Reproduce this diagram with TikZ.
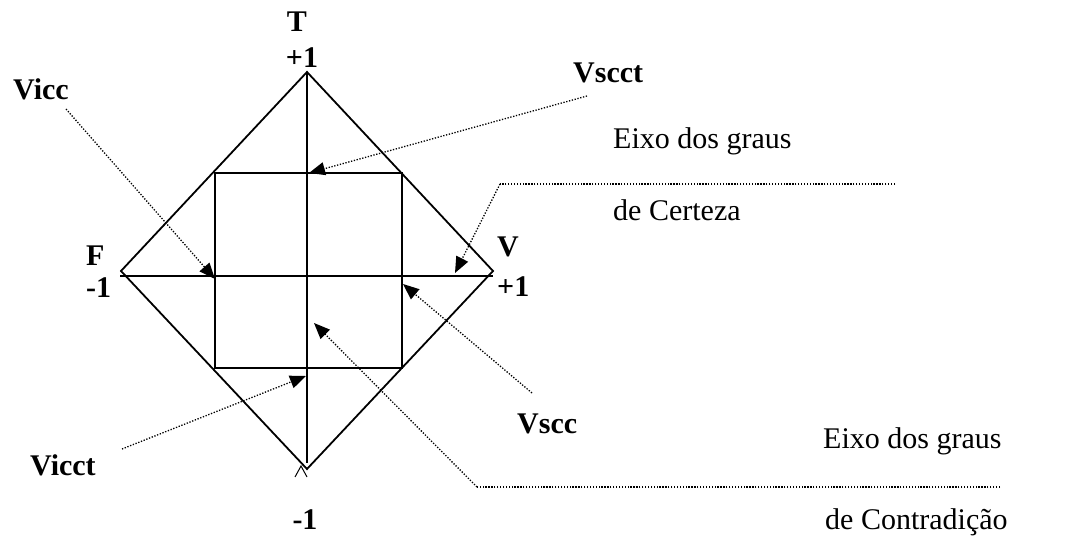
\documentclass[tikz,border=0pt]{standalone}
\usepackage{fontspec}
\setmainfont{Liberation Serif}
\usetikzlibrary{arrows.meta}
\begin{document}
\begin{tikzpicture}[x=1pt,y=-1pt,
  solid line/.style={line width=1.8pt,line join=miter},
  ptr/.style={line width=1.3pt,dash pattern=on 1.3pt off 1.6pt,-{Triangle[length=16pt,width=13pt]}},
  guide/.style={line width=1.3pt,dash pattern=on 1.3pt off 1.6pt},
  lbl/.style={inner sep=0pt,font=\fontsize{30}{36}\selectfont\bfseries},
  txt/.style={inner sep=0pt,font=\fontsize{30}{36}\selectfont}]
\useasboundingbox (0,0) rectangle (1082,537);
% vertices
\coordinate (top) at (307,72);
\coordinate (right) at (493,271);
\coordinate (bot) at (307,469);
\coordinate (left) at (121,271);
\coordinate (hl) at (120,276);
\coordinate (hr) at (493,276);
\coordinate (vb) at (307,463);
\coordinate (sq1) at (215,173);
\coordinate (sq2) at (402,368);
\draw[solid line] (top) -- (right) -- (bot) -- (left) -- cycle;
\draw[solid line] (sq1) rectangle (sq2);
\draw[solid line] (hl) -- (hr);
\draw[solid line] (top) -- (vb);
\draw[line width=1pt] (295,477) -- (301,466) -- (307,477);
% labels
\node[lbl,anchor=base] (T) at (297,32) {T};
\node[lbl,anchor=base] (Tp) at (302,68) {+1};
\node[lbl,anchor=base west] (F) at (86,266) {F};
\node[lbl,anchor=base west] (Fm) at (86,298) {-1};
\node[lbl,anchor=base west] (V) at (497,257) {V};
\node[lbl,anchor=base west] (Vp) at (497,297) {+1};
\node[lbl,anchor=base] (Bm) at (305,529) {-1};
\node[lbl,anchor=base west] (Vicc) at (13,100) {Vicc};
\node[lbl,anchor=base west] (Vscct) at (573,83) {Vscct};
\node[lbl,anchor=base west] (Vscc) at (517,433) {Vscc};
\node[lbl,anchor=base west] (Vicct) at (30,475) {Vicct};
\node[txt,anchor=base west] (E1) at (613,149) {Eixo dos graus};
\node[txt,anchor=base west] (C1) at (613,221) {de Certeza};
\node[txt,anchor=base west] (E2) at (823,448) {Eixo dos graus};
\node[txt,anchor=base west] (C2) at (825,529) {de Contradição};
% pointer coordinates
\coordinate (a1s) at (66,109);   \coordinate (a1e) at (215,279);
\coordinate (a2s) at (587,96);   \coordinate (a2e) at (309,173);
\coordinate (g1s) at (895,184);  \coordinate (g1c) at (500,184);
\coordinate (a3e) at (455,273);
\coordinate (a4s) at (532,393);  \coordinate (a4e) at (403,284);
\coordinate (a5s) at (122,449);  \coordinate (a5e) at (306,376);
\coordinate (g2s) at (1000,487); \coordinate (g2c) at (477,487);
\coordinate (a6e) at (314,323);
\draw[ptr] (a1s) -- (a1e);
\draw[ptr] (a2s) -- (a2e);
\draw[guide] (g1s) -- (g1c);
\draw[ptr] (g1c) -- (a3e);
\draw[ptr] (a4s) -- (a4e);
\draw[ptr] (a5s) -- (a5e);
\draw[guide] (g2s) -- (g2c);
\draw[ptr] (g2c) -- (a6e);
\end{tikzpicture}
\end{document}
